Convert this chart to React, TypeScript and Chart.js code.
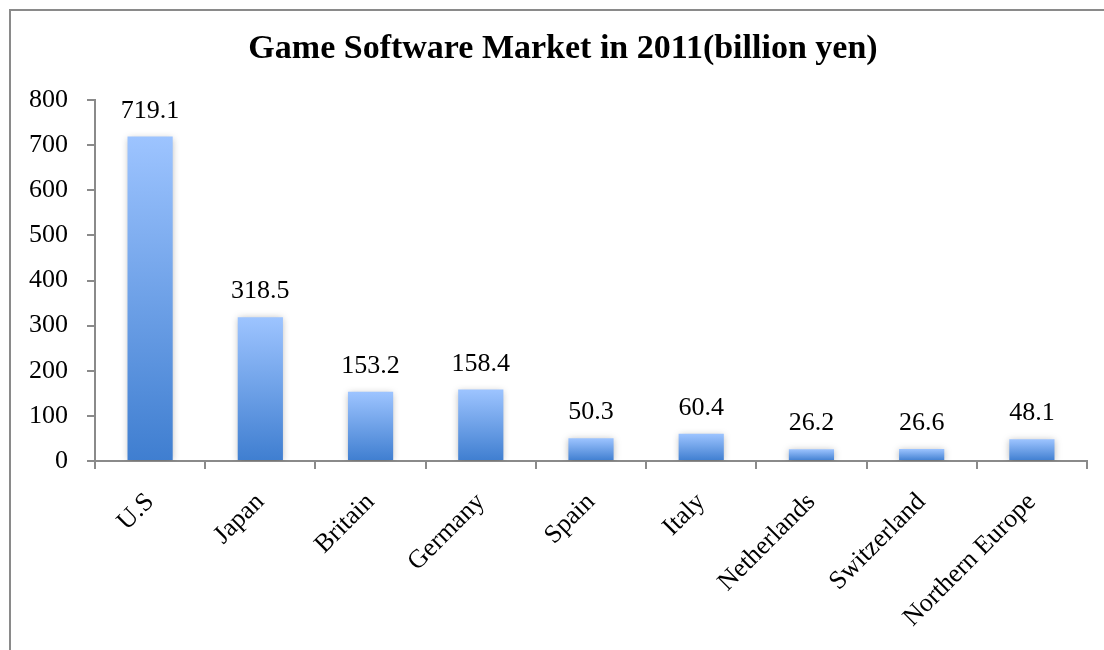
import React, { useEffect, useRef } from "react";
import { Chart, registerables } from "chart.js";

Chart.register(...registerables);

const categories = ["U.S", "Japan", "Britain", "Germany", "Spain", "Italy", "Netherlands", "Switzerland", "Northern Europe"];
const values = [719.1, 318.5, 153.2, 158.4, 50.3, 60.4, 26.2, 26.6, 48.1];
const titleText = "Game Software Market in 2011(billion yen)";
const yMax = 800;
const yStep = 100;

const FONT = "'Liberation Serif', 'Times New Roman', serif";
const GREY = "#8a8a8a";

const framePlugin = {
  id: "frame",
  beforeDraw(chart: any) {
    const ctx = chart.ctx;
    ctx.save();
    ctx.strokeStyle = GREY;
    ctx.lineWidth = 2;
    ctx.beginPath();
    ctx.moveTo(10, chart.height);
    ctx.lineTo(10, 10);
    ctx.lineTo(chart.width, 10);
    ctx.stroke();
    ctx.fillStyle = "#000";
    ctx.font = `bold 34px ${FONT}`;
    ctx.textAlign = "center";
    ctx.textBaseline = "middle";
    ctx.fillText(titleText, 563, 49);
    ctx.restore();
  },
};

const shadowPlugin = {
  id: "barShadow",
  beforeDatasetsDraw(chart: any) {
    const ctx = chart.ctx;
    ctx.save();
    ctx.shadowColor = "rgba(0,0,0,0.28)";
    ctx.shadowBlur = 7;
    ctx.shadowOffsetX = 0;
    ctx.shadowOffsetY = 1;
  },
  afterDatasetsDraw(chart: any) {
    chart.ctx.restore();
    const ctx = chart.ctx;
    const meta = chart.getDatasetMeta(0);
    ctx.save();
    ctx.fillStyle = "#000";
    ctx.font = `26px ${FONT}`;
    ctx.textAlign = "center";
    ctx.textBaseline = "alphabetic";
    meta.data.forEach((bar: any, i: number) => {
      const v = chart.data.datasets[0].data[i];
      ctx.fillText(v.toFixed(1), bar.x, bar.y - 19);
    });
    ctx.restore();
  },
};

export default function App() {
  const ref = useRef<HTMLCanvasElement>(null);
  useEffect(() => {
    if (!ref.current) return;
    const chart = new Chart(ref.current, {
      type: "bar",
      data: {
        labels: categories,
        datasets: [
          {
            data: values,
            backgroundColor: (c: any) => {
              const ch = c.chart;
              const ys = ch.scales && ch.scales.y;
              if (!ys || c.dataIndex === undefined) return "#6a9fe8";
              const v = values[c.dataIndex];
              const top = ys.getPixelForValue(v);
              const bottom = ys.getPixelForValue(0);
              if (!isFinite(top) || !isFinite(bottom) || top === bottom) return "#6a9fe8";
              const g = ch.ctx.createLinearGradient(0, top, 0, bottom);
              g.addColorStop(0, "#9dc4ff");
              g.addColorStop(1, "#3f7ed0");
              return g;
            },
            borderWidth: 0,
            barPercentage: 0.41,
            categoryPercentage: 1,
          },
        ],
      },
      options: {
        responsive: false,
        animation: false,
        events: [],
        layout: { padding: { left: 0, right: 17, top: 100, bottom: 0 } },
        plugins: {
          legend: { display: false },
          tooltip: { enabled: false },
          title: { display: false },
        },
        scales: {
          x: {
            grid: { drawOnChartArea: false, color: GREY, lineWidth: 2, tickLength: 8, offset: true },
            border: { color: GREY, width: 2 },
            ticks: {
              color: "#000",
              font: { family: FONT, size: 26 },
              maxRotation: 45,
              minRotation: 45,
              autoSkip: false,
              padding: 18,
            },
            afterFit: (s: any) => {
              s.height = 189;
            },
          },
          y: {
            min: 0,
            max: yMax,
            grid: { drawOnChartArea: false, color: GREY, lineWidth: 2, tickLength: 8 },
            border: { color: GREY, width: 2 },
            ticks: {
              stepSize: yStep,
              color: "#000",
              font: { family: FONT, size: 26 },
              padding: 19,
            },
            afterFit: (s: any) => {
              s.width = 95;
            },
          },
        },
      },
      plugins: [framePlugin, shadowPlugin],
    });
    return () => chart.destroy();
  }, []);
  return (
    <div style={{ position: "absolute", left: 0, top: 0, width: 1104, height: 650, background: "#fff" }}>
      <canvas ref={ref} width={1104} height={650} style={{ display: "block", width: 1104, height: 650 }} />
    </div>
  );
}
